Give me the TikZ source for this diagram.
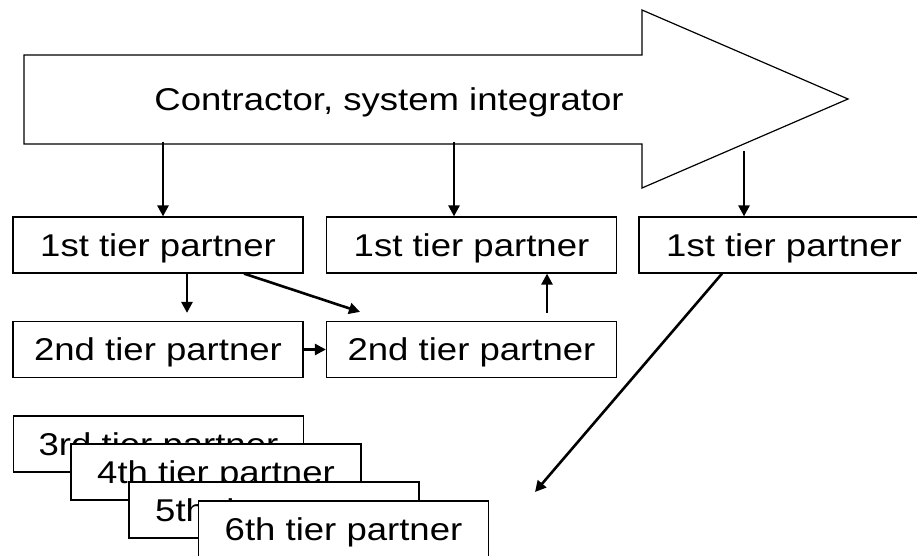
\documentclass[tikz,border=0pt]{standalone}
\usepackage{fontspec}
\setmainfont[FakeStretch=1.16]{Liberation Sans}
\usetikzlibrary{arrows.meta}

\begin{document}
\begin{tikzpicture}[x=1pt,y=-1pt,
  tier/.style={draw=black, line width=1.2pt, fill=white,
    minimum width=290pt, minimum height=56pt, inner sep=0pt,
    text height=22pt, text depth=0pt, font=\fontsize{31.5}{37}\selectfont},
  link/.style={line width=2.6pt, -{Triangle[length=11pt,width=11pt]}},
  outline/.style={draw=black, line width=1.2pt, fill=white},
]
\useasboundingbox (0,0) rectangle (917,556);
\clip (0,0) rectangle (917,556);

% big block arrow
\draw[outline] (24,55) -- (642,55) -- (642,10) -- (848,99) -- (642,188)
  -- (642,144) -- (24,144) -- cycle;
\node[anchor=base, font=\fontsize{31.5}{37}\selectfont, inner sep=0pt] (ci)
  at (389,110.5) {Contractor, system integrator};

% first and second tier
\node[tier] (t1a) at (158,245) {1st tier partner};
\node[tier] (t1b) at (471.5,245) {1st tier partner};
\node[tier] (t1c) at (784,245) {1st tier partner};
\node[tier] (t2a) at (158,349.5) {2nd tier partner};
\node[tier] (t2b) at (471.5,349.5) {2nd tier partner};

% stacked deeper tiers
\node[tier] (t3) at (158.5,444) {3rd tier partner};
\node[tier] (t4) at (216,472) {4th tier partner};
\node[tier] (t5) at (274,510) {5th tier partner};
\node[tier] (t6) at (343.5,529) {6th tier partner};

% start points on the block arrow
\coordinate (s1) at (163,142);
\coordinate (s2) at (454,142);
\coordinate (s3) at (744,151);
\coordinate (deep) at (535,492);

\draw[link] (s1) -- (s1 |- t1a.north);
\draw[link] (s2) -- (s2 |- t1b.north);
\draw[link] (s3) -- (s3 |- t1c.north);

\draw[link] ([xshift=29pt]t1a.south) -- ([xshift=29pt,yshift=8pt]t2a.north);
\draw[link] ([xshift=86pt]t1a.south) -- ([xshift=-111.5pt,yshift=9pt]t2b.north);
\draw[link] ([xshift=75.5pt,yshift=8pt]t2b.north) -- ([xshift=75.5pt]t1b.south);
\draw[link] (t2a.east) -- (t2b.west);
\draw[link] ([xshift=-62pt]t1c.south) -- (deep);
\end{tikzpicture}
\end{document}
